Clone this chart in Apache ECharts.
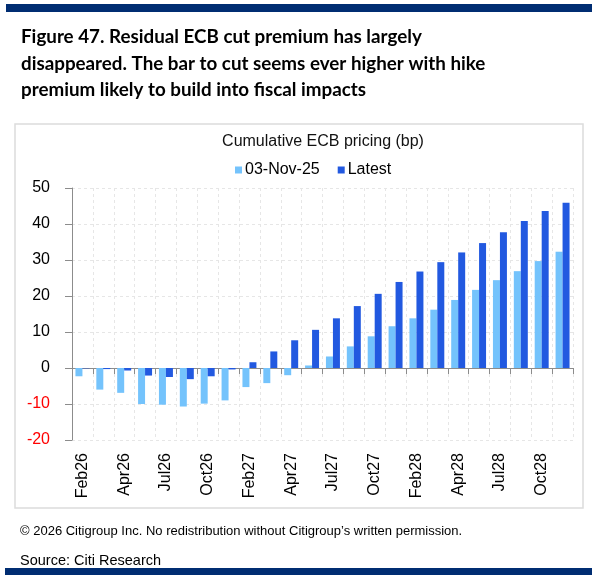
<!DOCTYPE html>
<html>
<head>
<meta charset="utf-8">
<script src="https://cdn.jsdelivr.net/npm/echarts@6/dist/echarts.min.js"></script>
<style>
html,body{margin:0;padding:0;background:#fff;}
#chart{width:592px;height:575px;}
</style>
</head>
<body>
<div id="chart"></div>
<script>
var categories = ['Feb26','Mar26','Apr26','Jun26','Jul26','Sep26','Oct26','Dec26',
                  'Feb27','Mar27','Apr27','Jun27','Jul27','Sep27','Oct27','Dec27',
                  'Feb28','Mar28','Apr28','Jun28','Jul28','Sep28','Oct28','Dec28'];
var nov03 = [-2.3,-6.0,-6.9,-10.0,-10.2,-10.7,-9.9,-9.0,-5.3,-4.2,-2.0,0.7,
             3.2,6.0,8.8,11.6,13.8,16.2,18.9,21.7,24.4,26.9,29.7,32.3];
var latest = [-0.1,-0.3,-0.7,-2.1,-2.5,-3.1,-2.3,-0.4,1.6,4.6,7.7,10.6,
              13.8,17.2,20.6,23.9,26.8,29.4,32.1,34.7,37.7,40.8,43.6,45.9];
var seriesNames = ['03-Nov-25','Latest'];
var yTicks = {min:-20, max:50, interval:10};

var titleText = 'Figure 47. Residual ECB cut premium has largely\ndisappeared. The bar to cut seems ever higher with hike\npremium likely to build into fiscal impacts';
var chartTitle = 'Cumulative ECB pricing (bp)';
var copyrightText = '\u00A9 2026 Citigroup Inc. No redistribution without Citigroup\u2019s written permission.';
var sourceText = 'Source: Citi Research';

var AX = 'Liberation Sans, Arial, sans-serif';
var chart = echarts.init(document.getElementById('chart'), null, {renderer:'canvas'});
chart.setOption({
  backgroundColor:'#ffffff',
  animation:false,
  color:['#74C3FC','#2259E0'],
  graphic:[
    {type:'rect', z:-1, shape:{x:6,y:4,width:586,height:8}, style:{fill:'#002D72'}},
    {type:'rect', z:-1, shape:{x:5,y:568,width:587,height:7}, style:{fill:'#002D72'}},
    {type:'rect', z:-1, shape:{x:15,y:124,width:568,height:384}, style:{fill:'none',stroke:'#dcdcdc',lineWidth:1.5}}
  ],
  title:[
    {text:titleText, left:16, top:19,
     textStyle:{fontFamily:'Lato, "Noto Sans", sans-serif', fontWeight:'bold', fontSize:18.8, lineHeight:26.5, color:'#000'}},
    {text:chartTitle, left:318, top:129, textAlign:'center',
     textStyle:{fontFamily:AX, fontWeight:'normal', fontSize:16, color:'#111'}},
    {text:copyrightText, left:15, top:520,
     textStyle:{fontFamily:AX, fontWeight:'normal', fontSize:13, color:'#000'}},
    {text:sourceText, left:15, top:548,
     textStyle:{fontFamily:AX, fontWeight:'normal', fontSize:14.5, color:'#000'}}
  ],
  legend:{
    data:seriesNames, left:230, top:157, icon:'rect', itemWidth:7, itemHeight:7, itemGap:18,
    textStyle:{fontFamily:AX, fontSize:16, color:'#000', padding:[0,0,0,-2]}
  },
  grid:{left:72, right:19, top:188, bottom:135, containLabel:false},
  xAxis:[
    {type:'category', data:categories, position:'bottom', boundaryGap:true,
     axisLine:{show:false, onZero:false}, axisTick:{show:false},
     axisLabel:{interval:1, rotate:90, margin:13, fontFamily:AX, fontSize:16, color:'#000'},
     splitLine:{show:true, interval:0, lineStyle:{color:'#e6e6e6', type:[3,3], width:1}}},
    {type:'category', data:categories, position:'bottom', boundaryGap:true,
     axisLine:{show:true, onZero:true, lineStyle:{color:'#8c8c8c', width:1}},
     axisTick:{show:true, interval:0, length:6, lineStyle:{color:'#8c8c8c'}},
     axisLabel:{show:false}, splitLine:{show:false}}
  ],
  yAxis:{
    type:'value', min:yTicks.min, max:yTicks.max, interval:yTicks.interval,
    axisLine:{show:true, lineStyle:{color:'#8c8c8c', width:1}},
    axisTick:{show:true, length:7, lineStyle:{color:'#8c8c8c'}},
    axisLabel:{margin:22, fontFamily:AX, fontSize:16,
      color:function(v){ return Number(v) < 0 ? '#FF0000' : '#000000'; }},
    splitLine:{show:true, lineStyle:{color:'#e6e6e6', type:[3,3], width:1}}
  },
  series:[
    {name:seriesNames[0], type:'bar', data:nov03, barGap:'0%', barCategoryGap:'33%', xAxisIndex:0},
    {name:seriesNames[1], type:'bar', data:latest, barGap:'0%', barCategoryGap:'33%', xAxisIndex:0}
  ]
});
</script>
</body>
</html>
